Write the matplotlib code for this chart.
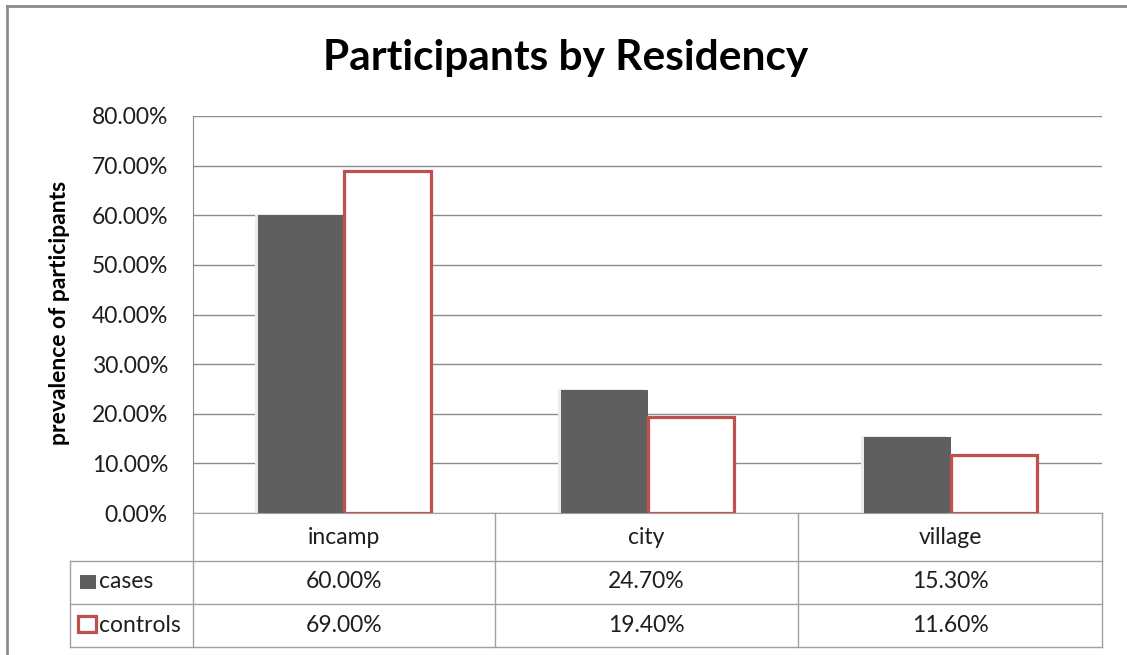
import numpy as np
import matplotlib
matplotlib.use('Agg')
import matplotlib.pyplot as plt
from matplotlib.lines import Line2D
from matplotlib.patches import Rectangle

# data
categories = ['incamp', 'city', 'village']
series_names = ['cases', 'controls']
cases = [0.600, 0.247, 0.153]
controls = [0.690, 0.194, 0.116]
yticks = [0.0, 0.1, 0.2, 0.3, 0.4, 0.5, 0.6, 0.7, 0.8]

plt.rcParams['font.family'] = ['Lato', 'DejaVu Sans']

W, H = 1127, 655
gray_bar = '#5f5f5f'
red = '#c0504d'
line_gray = '#a0a0a0'
txt = '#1e1e1e'
fs = 16.5


def fx(px):
    return px / W


def fy(py):
    return 1 - py / H


fig = plt.figure(figsize=(W / 100, H / 100), dpi=100)
fig.patch.set_facecolor('white')

# outer chart border (only left and top visible in the reference)
fig.add_artist(Line2D([fx(7), fx(7)], [0, fy(6)], color='#8c8c8c', lw=2))
fig.add_artist(Line2D([fx(7), 1], [fy(6), fy(6)], color='#8c8c8c', lw=2))

ax = fig.add_axes([fx(193), fy(513), fx(1102) - fx(193), fy(116) - fy(513)])
x = np.arange(len(categories)) + 0.5
w = 86 / 302

# faint shadow for the filled bars
for xi, v in zip(x, cases):
    ax.add_patch(Rectangle((xi - w - 0.01, 0), w, v + 0.003, color='#ececec', zorder=2, lw=0))
ax.bar(x - w / 2, cases, w, color=gray_bar, zorder=3)
ax.bar(x + w / 2, controls, w, facecolor='white', edgecolor=red, linewidth=2.3, zorder=3)

ax.set_xlim(0, 3)
ax.set_ylim(0, 0.8)
ax.set_yticks(yticks)
ax.set_yticklabels(['{:.2%}'.format(t) for t in yticks], fontsize=fs, color=txt)
ax.set_xticks([])
ax.tick_params(axis='y', length=0, pad=18)
ax.yaxis.grid(True, color='#8c8c8c', lw=1)
ax.set_axisbelow(True)
for s in ['top', 'right']:
    ax.spines[s].set_visible(False)
ax.spines['left'].set_color('#8c8c8c')
ax.spines['bottom'].set_color(line_gray)

fig.text(fx(60), fy(313), 'prevalence of participants', fontsize=16.5, fontweight='bold',
         rotation=90, ha='center', va='center', color='black')
fig.text(fx(566), fy(58), 'Participants by Residency', fontsize=30.5, fontweight='bold',
         ha='center', va='center', color='black')

# data table under the axis
rows_y = [513, 561, 604, 647]
cols_x = [193, 495, 798, 1102]
for yy in rows_y[1:]:
    fig.add_artist(Line2D([fx(70), fx(1102)], [fy(yy), fy(yy)], color=line_gray, lw=1))
for xx in cols_x:
    fig.add_artist(Line2D([fx(xx), fx(xx)], [fy(513), fy(647)], color=line_gray, lw=1))
fig.add_artist(Line2D([fx(70), fx(70)], [fy(561), fy(647)], color=line_gray, lw=1))

col_centers = [(cols_x[i] + cols_x[i + 1]) / 2 for i in range(3)]
for cx, cat in zip(col_centers, categories):
    fig.text(fx(cx), fy(537), cat, fontsize=fs, ha='center', va='center', color=txt)
for cx, v in zip(col_centers, cases):
    fig.text(fx(cx), fy(582), '{:.2%}'.format(v), fontsize=fs, ha='center', va='center', color=txt)
for cx, v in zip(col_centers, controls):
    fig.text(fx(cx), fy(625), '{:.2%}'.format(v), fontsize=fs, ha='center', va='center', color=txt)

# legend keys inside the table
fig.add_artist(Rectangle((fx(80), fy(589)), fx(96) - fx(80), fy(575) - fy(589),
                         facecolor=gray_bar, edgecolor='none', transform=fig.transFigure))
fig.add_artist(Rectangle((fx(78), fy(632)), fx(96) - fx(78), fy(616) - fy(632),
                         facecolor='white', edgecolor=red, lw=2.3, transform=fig.transFigure))
fig.text(fx(99), fy(582), series_names[0], fontsize=fs, ha='left', va='center', color=txt)
fig.text(fx(99), fy(625), series_names[1], fontsize=fs, ha='left', va='center', color=txt)

fig.savefig('out.png', dpi=100)
